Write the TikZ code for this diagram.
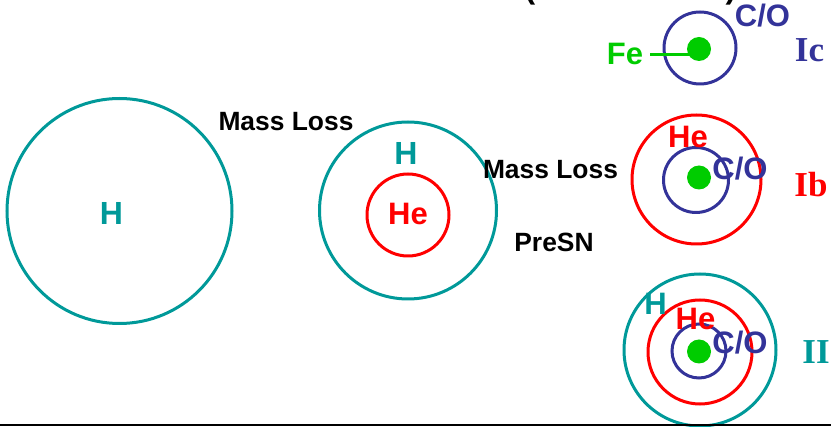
\documentclass[tikz,border=0pt]{standalone}
\usepackage{fontspec}
\setmainfont{Liberation Sans}
\newfontfamily\typefont{Liberation Serif}
\usetikzlibrary{positioning}
\definecolor{shellH}{HTML}{009999}
\definecolor{shellHe}{HTML}{FF0000}
\definecolor{shellCO}{HTML}{333399}
\definecolor{coreFe}{HTML}{00CC00}

\begin{document}
\begin{tikzpicture}[x=0.5pt, y=-0.5pt,
    shell/.style={line width=1.5pt},
    core/.style={circle, fill=coreFe, minimum size=12pt, inner sep=0pt},
    lbl/.style={inner sep=0pt, anchor=base, font=\fontsize{15.5}{18}\selectfont\bfseries},
    note/.style={inner sep=0pt, anchor=base, font=\fontsize{13.2}{16}\selectfont\bfseries},
    sntype/.style={inner sep=0pt, anchor=base, font=\fontsize{17.5}{20}\selectfont\typefont\bfseries}]
  \useasboundingbox (0,0) rectangle (831,427);

  % cut-off heading
  \node[lbl, font=\fontsize{16}{18}\selectfont\bfseries] (lpar) at (530,-1) {(};
  \node[lbl, font=\fontsize{16}{18}\selectfont\bfseries] (rpar) at (731,-1) {)};

  % main sequence star
  \draw[shell, shellH] (119.5,211) circle (112.5);
  \node[lbl, shellH, font=\fontsize{16}{18}\selectfont\bfseries] (hMS) at (111.5,225) {H};

  \node[note] (loss1) at (286,131) {Mass Loss};

  % star after first mass loss
  \draw[shell, shellH] (408,210.5) circle (88.5);
  \draw[shell, shellHe] (408,215) circle (41);
  \node[lbl, shellH, font=\fontsize{16}{18}\selectfont\bfseries] (hWR) at (406,165) {H};
  \node[lbl, shellHe] (heWR) at (408,225) {He};

  \node[note] (loss2) at (550.5,179) {Mass Loss};
  \node[note] (presn) at (554,252) {PreSN};

  % type Ic
  \draw[shell, shellCO] (700,48) circle (36);
  \node[core] (dotIc) at (699,49) {};
  \node[lbl, coreFe] (fe) at (625,65) {Fe};
  \draw[coreFe, line width=1.5pt, shorten <=3.5pt] (fe.east) -- (fe.east -| dotIc.center);
  \node[lbl, shellCO] (coIc) at (762.5,27) {C/O};
  \node[sntype, shellCO] (Ic) at (809.5,62) {Ic};

  % type Ib
  \draw[shell, shellHe] (696.5,179.5) circle (64.5);
  \draw[shell, shellCO] (696,180) circle (32.5);
  \node[core] (dotIb) at (699,177.5) {};
  \node[lbl, shellHe] (heIb) at (688,148) {He};
  \node[lbl, shellCO] (coIb) at (740,180) {C/O};
  \node[sntype, shellHe] (Ib) at (811,197) {Ib};

  % type II
  \draw[shell, shellH] (700,350) circle (76);
  \draw[shell, shellHe] (700,352) circle (52);
  \draw[shell, shellCO] (699,351) circle (27);
  \node[core] (dotII) at (699,351.5) {};
  \node[lbl, shellH] (hII) at (655.5,315) {H};
  \node[lbl, shellHe] (heII) at (695.5,330) {He};
  \node[lbl, shellCO] (coII) at (740,354) {C/O};
  \node[sntype, shellH] (II) at (816,364) {II};

  \draw[line width=1pt] (0,425.5) -- (831,425.5);
\end{tikzpicture}
\end{document}
